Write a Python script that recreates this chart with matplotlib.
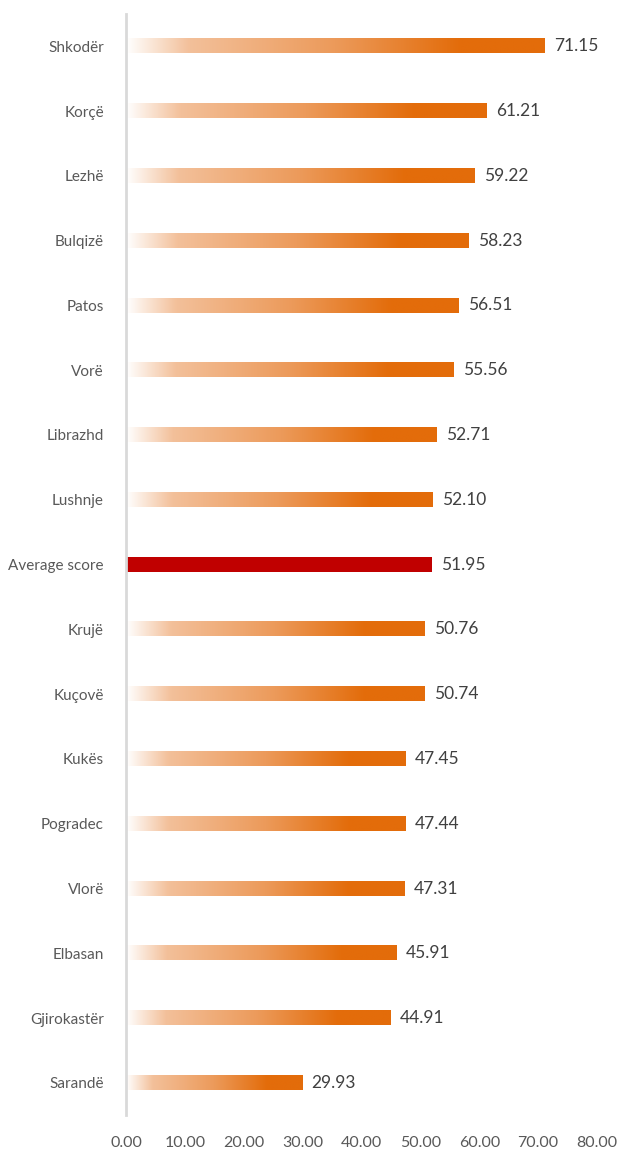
import numpy as np
import matplotlib
matplotlib.use("Agg")
import matplotlib.pyplot as plt
from matplotlib.colors import LinearSegmentedColormap

plt.rcParams['font.family'] = ['Lato', 'DejaVu Sans']

cities = ['Shkodër', 'Korçë', 'Lezhë', 'Bulqizë', 'Patos', 'Vorë', 'Librazhd',
          'Lushnje', 'Average score', 'Krujë', 'Kuçovë', 'Kukës', 'Pogradec',
          'Vlorë', 'Elbasan', 'Gjirokastër', 'Sarandë']
scores = [71.15, 61.21, 59.22, 58.23, 56.51, 55.56, 52.71, 52.10, 51.95,
          50.76, 50.74, 47.45, 47.44, 47.31, 45.91, 44.91, 29.93]
xticks = [0, 10, 20, 30, 40, 50, 60, 70, 80]

grad = LinearSegmentedColormap.from_list('grad', [
    (0.00, '#ffffff'),
    (0.15, '#f3c09a'),
    (0.50, '#ec9a5a'),
    (0.80, '#e36c0a'),
    (1.00, '#e36c0a'),
])
avg_color = '#c00000'

fig = plt.figure(figsize=(6.18, 11.51), dpi=100)
ax = fig.add_axes([0.204, 0.031, 0.762, 0.957])

h = 0.22
ramp = np.linspace(0, 1, 256).reshape(1, -1)
for i, (c, v) in enumerate(zip(cities, scores)):
    if c == 'Average score':
        ax.barh(i, v, height=h, color=avg_color, zorder=2)
    else:
        ax.imshow(ramp, cmap=grad, aspect='auto', interpolation='bilinear',
                  extent=(0, v, i + h / 2, i - h / 2), zorder=2)
    ax.text(v + 1.6, i, f'{v:.2f}', va='center', ha='left', fontsize=12.5,
            color='#404040')

ax.set_xlim(0, 80)
ax.set_ylim(16.5, -0.5)
ax.set_yticks(range(len(cities)))
ax.set_yticklabels(cities, fontsize=11, color='#595959')
ax.set_xticks(xticks)
ax.set_xticklabels([f'{t:.2f}' for t in xticks], fontsize=11.5, color='#595959')
ax.tick_params(axis='both', length=0)
ax.tick_params(axis='y', pad=16)
ax.tick_params(axis='x', pad=15)
for s in ['top', 'right', 'bottom']:
    ax.spines[s].set_visible(False)
ax.spines['left'].set_color('#d9d9d9')
ax.spines['left'].set_linewidth(2)
ax.spines['left'].set_zorder(3)

fig.savefig('out.png', dpi=100)
